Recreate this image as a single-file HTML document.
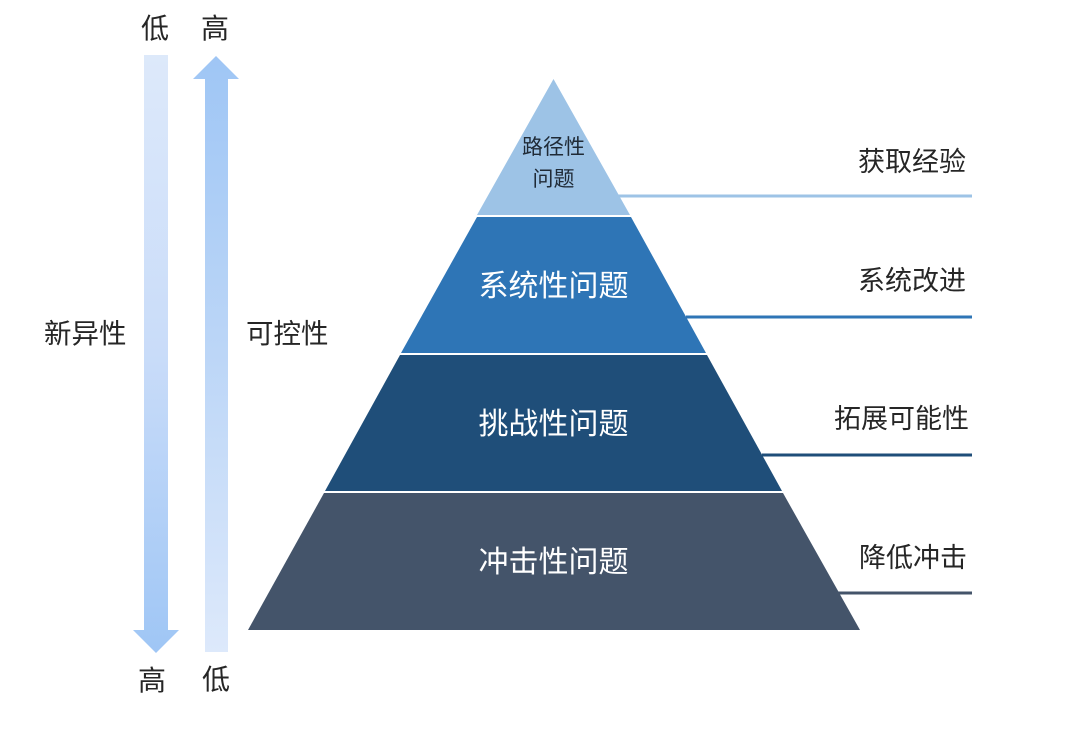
<!DOCTYPE html>
<html><head><meta charset="utf-8"><style>
html,body{margin:0;padding:0;background:#fff;width:1080px;height:732px;overflow:hidden}
svg{display:block}
text{font-family:"Liberation Sans","Noto Sans CJK SC",sans-serif;font-weight:400}
.d{fill:#262626;font-size:27px}
.w{fill:#fff;font-size:30px}
</style></head><body>
<svg width="1080" height="732" viewBox="0 0 1080 732" xmlns="http://www.w3.org/2000/svg">
<defs>
<linearGradient id="g1" x1="0" y1="0" x2="0" y2="1"><stop offset="0" stop-color="#dde9fa"/><stop offset="0.5" stop-color="#c9dcf9"/><stop offset="1" stop-color="#9fc6f5"/></linearGradient>
<linearGradient id="g2" x1="0" y1="0" x2="0" y2="1"><stop offset="0" stop-color="#9fc6f5"/><stop offset="0.5" stop-color="#bcd6f7"/><stop offset="1" stop-color="#dde9fb"/></linearGradient>
</defs>
<polygon points="144,55 168,55 168,630 179,630 156,653 133,630 144,630" fill="url(#g1)"/>
<polygon points="216,56 239,79 228,79 228,652 205,652 205,79 193,79" fill="url(#g2)"/>
<line x1="618" y1="196" x2="972" y2="196" stroke="#9dc3e6" stroke-width="3"/>
<line x1="686" y1="317" x2="972" y2="317" stroke="#2e75b6" stroke-width="3"/>
<line x1="762" y1="455" x2="972" y2="455" stroke="#1f4e79" stroke-width="3"/>
<line x1="838" y1="593" x2="972" y2="593" stroke="#44546a" stroke-width="3"/>
<polygon points="553.5,79 630,215 477,215" fill="#9dc3e6"/>
<polygon points="477,217 631,217 706,353 401,353" fill="#2e75b6"/>
<polygon points="400,355 707,355 782,491 325,491" fill="#1f4e79"/>
<polygon points="324,493 783,493 860,630 248,630" fill="#44546a"/>
<text class="d" x="141" y="38" style="font-size:28px">低</text>
<text class="d" x="201" y="38" style="font-size:28px">高</text>
<text class="d" x="138" y="690" style="font-size:28px">高</text>
<text class="d" x="202" y="689" style="font-size:28px">低</text>
<text class="d" x="44" y="343" style="font-size:27.5px">新异性</text>
<text class="d" x="246" y="343" style="font-size:27.5px">可控性</text>
<text x="553.5" y="154" text-anchor="middle" fill="#1f2a36" style="font-size:21px">路径性</text>
<text x="553.5" y="186" text-anchor="middle" fill="#1f2a36" style="font-size:21px">问题</text>
<text class="w" x="553.5" y="296" text-anchor="middle">系统性问题</text>
<text class="w" x="553.5" y="434" text-anchor="middle">挑战性问题</text>
<text class="w" x="553.5" y="572" text-anchor="middle">冲击性问题</text>
<text class="d" x="858" y="171">获取经验</text>
<text class="d" x="858" y="290">系统改进</text>
<text class="d" x="834" y="428">拓展可能性</text>
<text class="d" x="859" y="567">降低冲击</text>
</svg>
</body></html>
